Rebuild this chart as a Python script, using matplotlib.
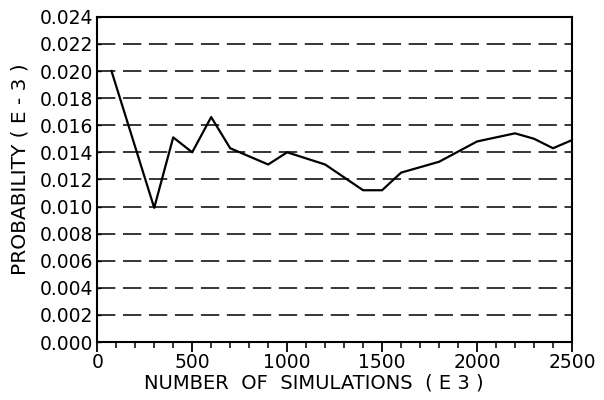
import numpy as np
import matplotlib.pyplot as plt
from matplotlib.ticker import MultipleLocator, FormatStrFormatter

# values
sims = [75, 300, 400, 500, 600, 700, 900, 1000, 1200, 1400, 1500, 1600,
        1800, 2000, 2200, 2300, 2400, 2500]
prob = [0.0200, 0.0099, 0.0151, 0.0140, 0.0166, 0.0143, 0.0131, 0.0140,
        0.0131, 0.0112, 0.0112, 0.0125, 0.0133, 0.0148, 0.0154, 0.0150,
        0.0143, 0.0149]
grid_levels = np.arange(0.002, 0.0225, 0.002)

fig = plt.figure(figsize=(6.04, 4.0), dpi=100)
ax = fig.add_axes([0.161, 0.145, 0.786, 0.813])

for g in grid_levels:
    ax.axhline(g, color='k', lw=1.1, ls=(0, (12, 5)), zorder=1)

ax.plot(sims, prob, color='k', lw=1.6, zorder=2)

ax.set_xlim(0, 2500)
ax.set_ylim(0, 0.024)
ax.xaxis.set_major_locator(MultipleLocator(500))
ax.xaxis.set_minor_locator(MultipleLocator(100))
ax.yaxis.set_major_locator(MultipleLocator(0.002))
ax.yaxis.set_major_formatter(FormatStrFormatter('%.3f'))
ax.tick_params(axis='x', which='major', direction='out', length=7, width=1.3,
               labelsize=13.5, pad=1)
ax.tick_params(axis='x', which='minor', direction='out', length=4, width=1.1)
ax.tick_params(axis='y', which='major', direction='in', length=3, width=1.0,
               labelsize=13.5, pad=3)
for s in ax.spines.values():
    s.set_linewidth(1.5)

ax.set_xlabel('NUMBER  OF  SIMULATIONS  ( E 3 )', fontsize=14)
ax.set_ylabel('PROBABILITY ( E - 3 )', fontsize=14.5)
ax.xaxis.set_label_coords(0.457, -0.097)
ax.yaxis.set_label_coords(-0.142, 0.53)

fig.savefig('out.png', dpi=100)
